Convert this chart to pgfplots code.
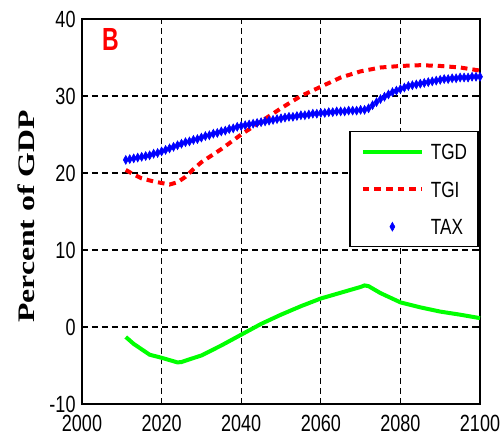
\documentclass[border=0pt]{standalone}
\usepackage{fontspec}
\usepackage{pgfplots}
\pgfplotsset{compat=1.18}
\setmainfont{Liberation Sans}
\newfontfamily\tickfont[FakeStretch=0.77]{Liberation Sans}
\newfontfamily\legfont[FakeStretch=0.78]{Liberation Sans}
\newfontfamily\bfont[FakeStretch=0.72]{Liberation Sans}
\newfontfamily\labfont[FakeStretch=1.34]{Liberation Serif}
\definecolor{mgreen}{RGB}{0,255,0}
\definecolor{mred}{RGB}{255,0,0}
\definecolor{mblue}{RGB}{0,0,255}
\begin{document}
\begin{tikzpicture}
\begin{axis}[
  scale only axis, width=199pt, height=192.5pt,
  xmin=2000, xmax=2100, ymin=-10, ymax=40,
  xtick={2000,2020,2040,2060,2080,2100},
  ytick={-10,0,10,20,30,40},
  xticklabels={2000,2020,2040,2060,2080,2100},
  yticklabels={-10,0,10,20,30,40},
  ticklabel style={font=\tickfont\fontsize{11.7}{13}\selectfont},
  xticklabel style={yshift=-2.2pt},
  yticklabel style={xshift=0.3pt},
  tick align=inside, major tick length=2.5pt,
  tick style={black, line width=0.6pt},
  grid=major,
  grid style={black, line width=0.6pt, dash pattern=on 3pt off 2pt},
  axis line style={black, line width=0.9pt},
  clip=false,
  ylabel={Percent of GDP},
  ylabel style={font=\labfont\bfseries\fontsize{11.85}{13}\selectfont,
    at={(axis description cs:-0.1407,0.487)}, anchor=center},
  legend style={at={(axis description cs:0.997,0.709)}, anchor=north east,
    draw=black, line width=0.7pt, fill=white,
    font=\legfont\fontsize{11}{12}\selectfont,
    inner xsep=5.5pt, inner ysep=6pt, row sep=10.75pt, column sep=3.5pt,
    nodes={inner sep=0pt, text height=8pt, text depth=0pt}},
  legend cell align=left,
  legend image code/.code={\draw[mark repeat=2,mark phase=2,#1] plot coordinates {(0pt,0pt) (14.75pt,0pt) (29.5pt,0pt)};},
]
\addplot[color=mgreen, line width=2pt] coordinates {
(2011,-1.3) (2013,-2.2) (2015,-2.9) (2017,-3.6) (2020,-4.0) (2022,-4.3)
(2024,-4.6) (2025,-4.55) (2027,-4.2) (2030,-3.7) (2035,-2.4) (2040,-1.0)
(2045,0.4) (2050,1.6) (2055,2.7) (2060,3.7) (2065,4.45) (2070,5.2)
(2071,5.4) (2072,5.3) (2075,4.4) (2080,3.2) (2085,2.55) (2090,2.0)
(2095,1.6) (2100,1.15)
};
\addlegendentry{TGD}
\addplot[color=mred, line width=2pt, dash pattern=on 3.3pt off 2.5pt] coordinates {
(2011,20.4) (2013,19.8) (2015,19.3) (2018,18.9) (2020,18.7) (2022,18.5)
(2024,18.8) (2026,19.5) (2028,20.5) (2030,21.4) (2035,23.1) (2040,25.0)
(2045,26.7) (2050,28.4) (2055,30.0) (2060,31.2) (2065,32.4) (2070,33.2)
(2075,33.7) (2080,33.9) (2085,34.0) (2090,33.9) (2095,33.7) (2100,33.3)
};
\addlegendentry{TGI}
\addplot[only marks, color=mblue, mark=diamond*, mark size=2.2pt,
  mark options={xscale=0.75, line width=0.3pt}] coordinates {
(2011,21.7) (2012,21.8) (2013,21.9) (2014,22.0) (2015,22.1) (2016,22.2)
(2017,22.3) (2018,22.5) (2019,22.6) (2020,22.8)
(2021,23.0) (2022,23.2) (2023,23.4) (2024,23.6) (2025,23.8) (2026,24.0)
(2027,24.1) (2028,24.3) (2029,24.4) (2030,24.6)
(2031,24.8) (2032,24.9) (2033,25.1) (2034,25.2) (2035,25.4) (2036,25.5)
(2037,25.7) (2038,25.8) (2039,26.0) (2040,26.1)
(2041,26.2) (2042,26.3) (2043,26.4) (2044,26.5) (2045,26.6) (2046,26.7)
(2047,26.8) (2048,26.9) (2049,27.0) (2050,27.1)
(2051,27.2) (2052,27.3) (2053,27.3) (2054,27.4) (2055,27.5) (2056,27.5)
(2057,27.6) (2058,27.7) (2059,27.7) (2060,27.8)
(2061,27.8) (2062,27.9) (2063,27.9) (2064,28.0) (2065,28.0) (2066,28.0)
(2067,28.1) (2068,28.1) (2069,28.1) (2070,28.2) (2071,28.2)
(2072,28.4) (2073,28.8) (2074,29.2) (2075,29.6) (2076,29.9) (2077,30.2)
(2078,30.5) (2079,30.7) (2080,30.9)
(2081,31.1) (2082,31.3) (2083,31.4) (2084,31.5) (2085,31.6) (2086,31.7)
(2087,31.8) (2088,31.9) (2089,32.0) (2090,32.1)
(2091,32.2) (2092,32.2) (2093,32.3) (2094,32.3) (2095,32.4) (2096,32.4)
(2097,32.4) (2098,32.5) (2099,32.5) (2100,32.5)
};
\addlegendentry{TAX}
\node[anchor=north west, inner sep=0pt, text=mred,
  font=\bfont\bfseries\fontsize{16}{16}\selectfont]
  at ([xshift=9.85pt,yshift=-4.65pt]rel axis cs:0,1) {B};
\end{axis}
\pgfresetboundingbox
\useasboundingbox ([xshift=-41pt,yshift=-18.5pt]current axis.south west) rectangle ([xshift=11pt,yshift=9.5pt]current axis.north east);
\end{tikzpicture}
\end{document}
